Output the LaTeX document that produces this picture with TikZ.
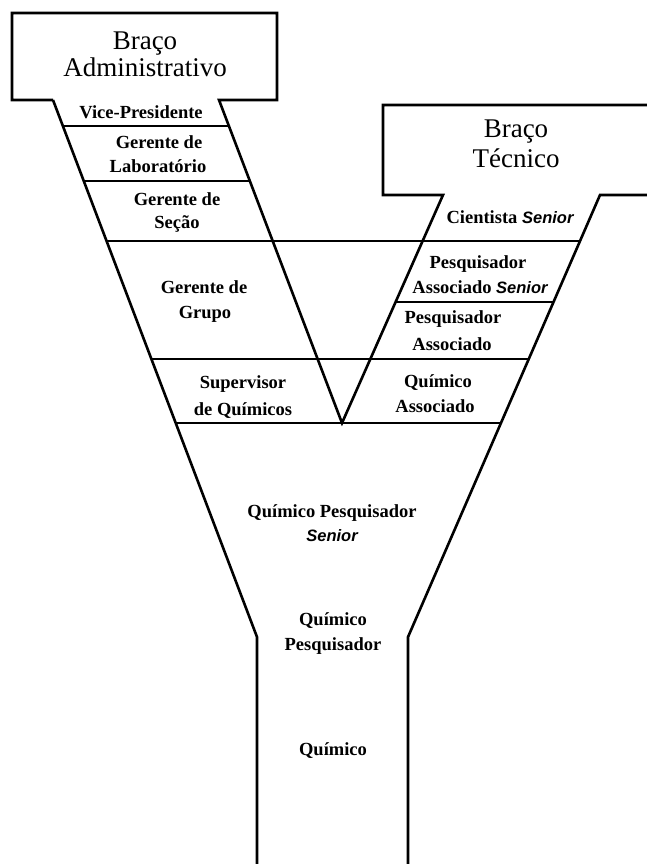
\documentclass[tikz,border=0pt]{standalone}
\usepackage{fontspec}
\setmainfont{Liberation Serif}
\newfontfamily\senfont{Liberation Sans}
\newcommand\SeniorTxt{{\senfont\bfseries\itshape\fontsize{16.5}{20}\selectfont Senior}}
\begin{document}
\begin{tikzpicture}[x=1pt,y=-1pt,
  outline/.style={line width=2.6pt, line join=miter},
  rung/.style={line width=1.8pt},
  title/.style={anchor=base, inner sep=0pt, font=\fontsize{27}{30}\selectfont},
  rank/.style={anchor=base, inner sep=0pt, font=\bfseries\fontsize{18.5}{22}\selectfont}]
\useasboundingbox (0,0) rectangle (646,864);
% key points
\coordinate (lbL) at (53,100);
\coordinate (lbR) at (219,100);
\coordinate (apex) at (342,423);
\coordinate (rbL) at (443,195);
\coordinate (rbR) at (600,195);
\coordinate (neckL) at (257,637);
\coordinate (neckR) at (408,637);
\coordinate (footL) at (257,870);
\coordinate (footR) at (408,870);
% outlines
\draw[outline] (lbL) -- (12,100) -- (12,13) -- (277,13) -- (277,100) -- (lbR) -- (apex) -- (rbL) -- (383,195) -- (383,105) -- (652,105);
\draw[outline] (lbL) -- (neckL) -- (footL);
\draw[outline] (652,195) -- (rbR) -- (neckR) -- (footR);
% rungs
\draw[rung] (62.9,126) -- (228.9,126);
\draw[rung] (83.8,181) -- (249.8,181);
\draw[rung] (106.6,241) -- (580,241);
\draw[rung] (395.6,302) -- (553.5,302);
\draw[rung] (151.4,359) -- (528.8,359);
\draw[rung] (175.7,423) -- (501,423);
% titles
\node[title] (t1a) at (145,50) {Braço};
\node[title] (t1b) at (145,77) {Administrativo};
\node[title] (t2a) at (516,137) {Braço};
\node[title] (t2b) at (516,167) {Técnico};
% left arm
\node[rank] (vp) at (141,118) {Vice-Presidente};
\node[rank] (gl1) at (159,148) {Gerente de};
\node[rank] (gl2) at (158,172) {Laboratório};
\node[rank] (gs1) at (177,205) {Gerente de};
\node[rank] (gs2) at (177,228) {Seção};
\node[rank] (gg1) at (204,293) {Gerente de};
\node[rank] (gg2) at (205,318) {Grupo};
\node[rank] (sq1) at (243,388) {Supervisor};
\node[rank] (sq2) at (243,415) {de Químicos};
% right arm
\node[rank] (cs) at (510,223) {Cientista \SeniorTxt};
\node[rank] (pas1) at (478,268) {Pesquisador};
\node[rank] (pas2) at (480,293) {Associado \SeniorTxt};
\node[rank] (pa1) at (453,323) {Pesquisador};
\node[rank] (pa2) at (452,350) {Associado};
\node[rank] (qa1) at (438,387) {Químico};
\node[rank] (qa2) at (435,412) {Associado};
% trunk
\node[rank] (qps1) at (332,517) {Químico Pesquisador};
\node[rank] (qps2) at (332,541) {\SeniorTxt};
\node[rank] (qp1) at (333,625) {Químico};
\node[rank] (qp2) at (333,650) {Pesquisador};
\node[rank] (q) at (333,755) {Químico};
\end{tikzpicture}
\end{document}
